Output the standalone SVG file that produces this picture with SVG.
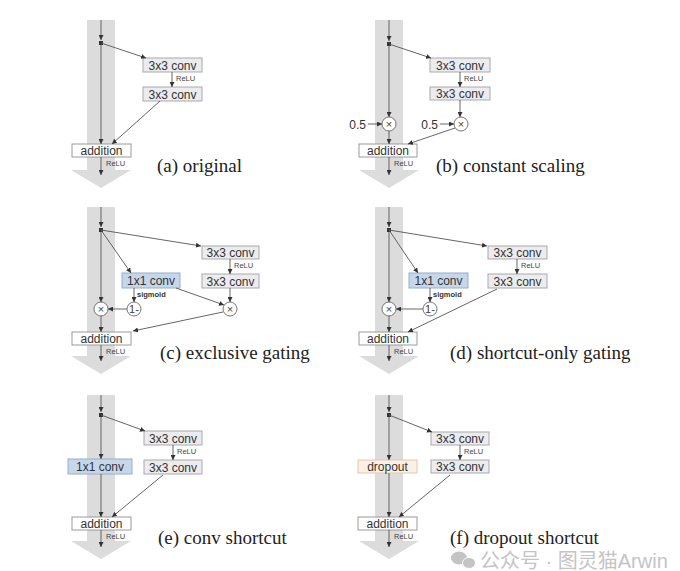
<svg xmlns="http://www.w3.org/2000/svg" width="680" height="571" viewBox="0 0 680 571">
<defs>
<marker id="ah" viewBox="0 0 6 6" refX="6" refY="3" markerWidth="5" markerHeight="5" orient="auto" markerUnits="userSpaceOnUse"><path d="M0,0 L6,3 L0,6 Z" fill="#333"/></marker>
</defs>
<style>
.shaft{fill:#dcdcdc}
.ln{stroke:#555;stroke-width:0.9;fill:none;marker-end:url(#ah)}
.box{fill:#ececef;stroke:#a9a9ae;stroke-width:1}
.add{fill:#ffffff;stroke:#9a9a9a;stroke-width:1}
.blue{fill:#c7d7eb;stroke:#98aecb;stroke-width:1}
.drop{fill:#fcefe3;stroke:#e2c8b0;stroke-width:1}
.circ{fill:#ffffff;stroke:#666;stroke-width:0.9}
.t{font-family:"Liberation Sans","DejaVu Sans",sans-serif;font-size:12px;fill:#333;text-anchor:middle}
.s{font-family:"Liberation Sans","DejaVu Sans",sans-serif;font-size:7.5px;fill:#444}
.sb{font-family:"Liberation Sans","DejaVu Sans",sans-serif;font-size:7.5px;fill:#333;font-weight:bold}
.n{font-family:"Liberation Sans","DejaVu Sans",sans-serif;font-size:12px;fill:#333;text-anchor:end}
.x{font-family:"Liberation Sans","DejaVu Sans",sans-serif;font-size:11px;fill:#444;text-anchor:middle}
.cap{font-family:"Liberation Serif","Times New Roman",serif;font-size:19px;fill:#222}
.wm{font-family:"Liberation Sans","Noto Sans CJK SC",sans-serif;font-size:20px;fill:#c4c4c4}
.dot{fill:#333}
</style>

<!-- Panel (a) -->
<g id="panel-a">
<path class="shaft" d="M87,20 H115 V170 H131 L101,188 L71,170 H87 Z"/>
</g>
<g id="a-conv1"><rect class="box" x="143" y="58" width="59" height="14"/><text class="t" x="172.5" y="69.5">3x3 conv</text></g>
<g id="a-conv2"><rect class="box" x="143" y="87" width="59" height="14"/><text class="t" x="172.5" y="98.5">3x3 conv</text></g>
<g id="a-add"><rect class="add" x="72" y="144" width="59" height="13"/><text class="t" x="101.5" y="155">addition</text></g>
<g id="a-conn">
<line class="ln" x1="101" y1="20" x2="101" y2="40"/>
<rect class="dot" x="99" y="41" width="4" height="4"/>
<line class="ln" x1="101" y1="45" x2="101" y2="144"/>
<line class="ln" x1="101" y1="43" x2="146" y2="58"/>
<line class="ln" x1="172" y1="72" x2="172" y2="87"/>
<text class="s" x="176" y="81">ReLU</text>
<line class="ln" x1="160" y1="101" x2="112" y2="144"/>
<line class="ln" x1="101" y1="157" x2="101" y2="175"/>
<text class="s" x="106" y="166">ReLU</text>
</g>
<text class="cap" x="157" y="172">(a) original</text>

<!-- Panel (b) -->
<g id="panel-b">
<path class="shaft" d="M375,20 H403 V170 H419 L389,188 L359,170 H375 Z"/>
</g>
<g id="b-conv1"><rect class="box" x="430" y="58" width="60" height="14"/><text class="t" x="460" y="69.5">3x3 conv</text></g>
<g id="b-conv2"><rect class="box" x="430" y="87" width="60" height="13"/><text class="t" x="460" y="98">3x3 conv</text></g>
<g id="b-mul1"><circle class="circ" cx="389" cy="124" r="7"/><text class="x" x="389" y="128">×</text></g>
<g id="b-mul2"><circle class="circ" cx="461" cy="124" r="7"/><text class="x" x="461" y="128">×</text></g>
<g id="b-add"><rect class="add" x="359" y="144" width="58" height="13"/><text class="t" x="388" y="155">addition</text></g>
<g id="b-conn">
<line class="ln" x1="389" y1="20" x2="389" y2="41"/>
<rect class="dot" x="387" y="42" width="4" height="4"/>
<line class="ln" x1="389" y1="46" x2="389" y2="117"/>
<line class="ln" x1="389" y1="44" x2="431" y2="58"/>
<line class="ln" x1="460" y1="72" x2="460" y2="87"/>
<text class="s" x="464" y="81">ReLU</text>
<line class="ln" x1="460" y1="100" x2="460" y2="117"/>
<text class="n" x="366" y="128.5">0.5</text>
<line class="ln" x1="368" y1="124" x2="382" y2="124"/>
<text class="n" x="438" y="128.5">0.5</text>
<line class="ln" x1="440" y1="124" x2="454" y2="124"/>
<line class="ln" x1="389" y1="131" x2="389" y2="144"/>
<line class="ln" x1="455" y1="128" x2="408" y2="144"/>
<line class="ln" x1="389" y1="157" x2="389" y2="175"/>
<text class="s" x="394" y="166">ReLU</text>
</g>
<text class="cap" x="436" y="172">(b) constant scaling</text>

<!-- Panel (c) -->
<g id="panel-c">
<path class="shaft" d="M87,207 H115 V356 H131 L101,374 L71,356 H87 Z"/>
</g>
<g id="c-conv1"><rect class="box" x="202" y="246" width="57" height="13"/><text class="t" x="230.5" y="257">3x3 conv</text></g>
<g id="c-conv2"><rect class="box" x="202" y="274" width="57" height="14"/><text class="t" x="230.5" y="285.5">3x3 conv</text></g>
<g id="c-gate"><rect class="blue" x="122" y="273" width="58" height="15"/><text class="t" x="151" y="285">1x1 conv</text></g>
<g id="c-inv"><circle class="circ" cx="134" cy="309" r="7"/><text class="x" x="134" y="313">1-</text></g>
<g id="c-mul1"><circle class="circ" cx="101" cy="309" r="7"/><text class="x" x="101" y="313">×</text></g>
<g id="c-mul2"><circle class="circ" cx="230" cy="309" r="7"/><text class="x" x="230" y="313">×</text></g>
<g id="c-add"><rect class="add" x="72" y="332" width="59" height="13"/><text class="t" x="101.5" y="343">addition</text></g>
<g id="c-conn">
<line class="ln" x1="101" y1="207" x2="101" y2="227"/>
<rect class="dot" x="99" y="228" width="4" height="4"/>
<line class="ln" x1="101" y1="232" x2="101" y2="302"/>
<line class="ln" x1="101" y1="230" x2="201" y2="246"/>
<line class="ln" x1="101" y1="230" x2="131" y2="273"/>
<line class="ln" x1="230" y1="259" x2="230" y2="274"/>
<text class="s" x="234" y="268">ReLU</text>
<line class="ln" x1="230" y1="288" x2="230" y2="302"/>
<line class="ln" x1="134" y1="288" x2="134" y2="302"/>
<text class="sb" x="137" y="297">sigmoid</text>
<line class="ln" x1="127" y1="309" x2="108" y2="309"/>
<line class="ln" x1="176" y1="288" x2="224" y2="305"/>
<line class="ln" x1="223" y1="312" x2="133" y2="331"/>
<line class="ln" x1="101" y1="316" x2="101" y2="332"/>
<line class="ln" x1="101" y1="345" x2="101" y2="361"/>
<text class="s" x="106" y="354">ReLU</text>
</g>
<text class="cap" x="160" y="359">(c) exclusive gating</text>

<!-- Panel (d) -->
<g id="panel-d">
<path class="shaft" d="M375,207 H403 V356 H419 L389,374 L359,356 H375 Z"/>
</g>
<g id="d-conv1"><rect class="box" x="488" y="246" width="59" height="13"/><text class="t" x="517.5" y="257">3x3 conv</text></g>
<g id="d-conv2"><rect class="box" x="488" y="274" width="59" height="14"/><text class="t" x="517.5" y="285.5">3x3 conv</text></g>
<g id="d-gate"><rect class="blue" x="409" y="273" width="59" height="15"/><text class="t" x="438.5" y="285">1x1 conv</text></g>
<g id="d-inv"><circle class="circ" cx="430" cy="309" r="7"/><text class="x" x="430" y="313">1-</text></g>
<g id="d-mul"><circle class="circ" cx="389" cy="309" r="7"/><text class="x" x="389" y="313">×</text></g>
<g id="d-add"><rect class="add" x="359" y="332" width="58" height="13"/><text class="t" x="388" y="343">addition</text></g>
<g id="d-conn">
<line class="ln" x1="389" y1="207" x2="389" y2="227"/>
<rect class="dot" x="387" y="228" width="4" height="4"/>
<line class="ln" x1="389" y1="232" x2="389" y2="302"/>
<line class="ln" x1="389" y1="230" x2="487" y2="246"/>
<line class="ln" x1="389" y1="230" x2="418" y2="273"/>
<line class="ln" x1="517" y1="259" x2="517" y2="274"/>
<text class="s" x="521" y="268">ReLU</text>
<line class="ln" x1="430" y1="288" x2="430" y2="302"/>
<text class="sb" x="433" y="297">sigmoid</text>
<line class="ln" x1="423" y1="309" x2="396" y2="309"/>
<line class="ln" x1="497" y1="289" x2="408" y2="332"/>
<line class="ln" x1="389" y1="316" x2="389" y2="332"/>
<line class="ln" x1="389" y1="345" x2="389" y2="361"/>
<text class="s" x="394" y="354">ReLU</text>
</g>
<text class="cap" x="450" y="359">(d) shortcut-only gating</text>

<!-- Panel (e) -->
<g id="panel-e">
<path class="shaft" d="M87,395 H115 V541 H131 L101,559 L71,541 H87 Z"/>
</g>
<g id="e-conv1"><rect class="box" x="144" y="431" width="58" height="14"/><text class="t" x="173" y="442.5">3x3 conv</text></g>
<g id="e-conv2"><rect class="box" x="144" y="460" width="58" height="14"/><text class="t" x="173" y="471.5">3x3 conv</text></g>
<g id="e-sc"><rect class="blue" x="68" y="459" width="64" height="15"/><text class="t" x="100" y="471">1x1 conv</text></g>
<g id="e-add"><rect class="add" x="72" y="517" width="59" height="13"/><text class="t" x="101.5" y="528">addition</text></g>
<g id="e-conn">
<line class="ln" x1="101" y1="395" x2="101" y2="412"/>
<rect class="dot" x="99" y="413" width="4" height="4"/>
<line class="ln" x1="101" y1="417" x2="101" y2="459"/>
<line class="ln" x1="101" y1="415" x2="145" y2="431"/>
<line class="ln" x1="173" y1="445" x2="173" y2="460"/>
<text class="s" x="177" y="454">ReLU</text>
<line class="ln" x1="101" y1="474" x2="101" y2="517"/>
<line class="ln" x1="163" y1="475" x2="112" y2="517"/>
<line class="ln" x1="101" y1="530" x2="101" y2="547"/>
<text class="s" x="106" y="539">ReLU</text>
</g>
<text class="cap" x="158" y="544">(e) conv shortcut</text>

<!-- Panel (f) -->
<g id="panel-f">
<path class="shaft" d="M375,395 H403 V541 H419 L389,559 L359,541 H375 Z"/>
</g>
<g id="f-conv1"><rect class="box" x="431" y="432" width="58" height="13"/><text class="t" x="460" y="443">3x3 conv</text></g>
<g id="f-conv2"><rect class="box" x="431" y="460" width="58" height="13"/><text class="t" x="460" y="471">3x3 conv</text></g>
<g id="f-drop"><rect class="drop" x="358" y="460" width="59" height="13"/><text class="t" x="387.5" y="471">dropout</text></g>
<g id="f-add"><rect class="add" x="358" y="517" width="59" height="13"/><text class="t" x="387.5" y="528">addition</text></g>
<g id="f-conn">
<line class="ln" x1="389" y1="395" x2="389" y2="412"/>
<rect class="dot" x="387" y="413" width="4" height="4"/>
<line class="ln" x1="389" y1="417" x2="389" y2="460"/>
<line class="ln" x1="389" y1="415" x2="432" y2="432"/>
<line class="ln" x1="460" y1="445" x2="460" y2="460"/>
<text class="s" x="464" y="454">ReLU</text>
<line class="ln" x1="389" y1="473" x2="389" y2="517"/>
<line class="ln" x1="450" y1="475" x2="399" y2="517"/>
<line class="ln" x1="389" y1="530" x2="389" y2="547"/>
<text class="s" x="394" y="539">ReLU</text>
</g>
<text class="cap" x="450" y="544">(f) dropout shortcut</text>

<!-- watermark -->
<g id="watermark">
<ellipse cx="459" cy="558" rx="8" ry="6.5" fill="#c4c4c4"/>
<ellipse cx="469" cy="563" rx="6.5" ry="5.5" fill="#c4c4c4" stroke="#fff" stroke-width="1"/>
<text class="wm" x="480" y="568">公众号 · 图灵猫Arwin</text>
</g>
</svg>
